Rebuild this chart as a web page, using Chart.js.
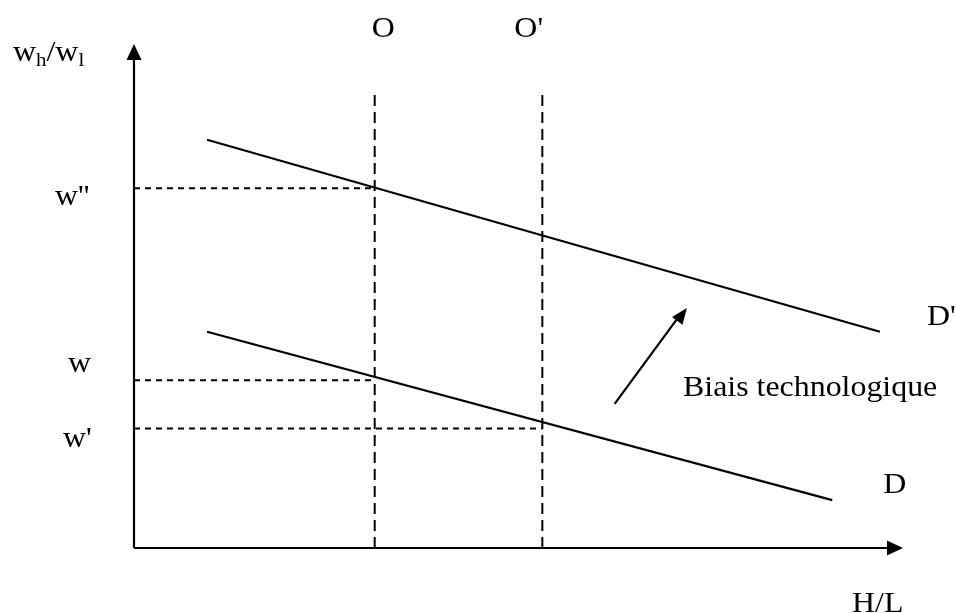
<!DOCTYPE html>
<html>
<head>
<meta charset="utf-8">
<script src="https://cdn.jsdelivr.net/npm/chart.js@4.4.1/dist/chart.umd.min.js"></script>
<style>
  body { margin: 0; background: #fff; }
  #wrap { width: 956px; height: 613px; }
</style>
</head>
<body>
<div id="wrap"><canvas id="chart" width="956" height="613"></canvas></div>
<script>
// demand curves (H/L -> wh/wl)
const demandX = [0.95, 9.08];
const demandY = [4.29, 0.95];
const shiftedX = [0.95, 9.70];
const shiftedY = [8.10, 4.29];

// relative supply O and O'
const supplyLabels = ['O', "O'"];
const supplyX = [3.13, 5.31];
const supplyTop = 9.03;

// wage levels read on the vertical axis
const wageLabels = ["w''", 'w', "w'"];
const wageY = [7.14, 3.33, 2.37];
const wageEndX = [3.13, 3.13, 5.31];

// shift arrow
const shiftX = [6.25, 7.19];
const shiftY = [2.86, 4.76];

const toPoints = (xs, ys) => xs.map((x, i) => ({ x: x, y: ys[i] }));

const datasets = [];
const solid = (pts) => ({
    data: pts, showLine: true, borderColor: '#000', borderWidth: 2.2,
    pointRadius: 0, fill: false, tension: 0, clip: false,
});

// axes
datasets.push(solid([{ x: 0, y: 0 }, { x: 0, y: 9.7 }]));
datasets.push(solid([{ x: 0, y: 0 }, { x: 9.8, y: 0 }]));

// demand D and D'
datasets.push(solid(toPoints(demandX, demandY)));
datasets.push(solid(toPoints(shiftedX, shiftedY)));

// shift arrow shaft
datasets.push(solid([{ x: shiftX[0], y: shiftY[0] }, { x: shiftX[1] - 0.12, y: shiftY[1] - 0.2 }]));

// vertical dashed O, O'
supplyX.forEach((x) => {
    datasets.push({ ...solid([{ x: x, y: 0 }, { x: x, y: supplyTop }]), borderDash: [11, 6], borderWidth: 2 });
});

// horizontal dashed wage levels
wageY.forEach((y, i) => {
    datasets.push({ ...solid([{ x: 0, y: y }, { x: wageEndX[i], y: y }]), borderDash: [6, 5], borderWidth: 2 });
});

const FONT = '29px "Liberation Serif", "Times New Roman", serif';
const SUB = '19px "Liberation Serif", "Times New Roman", serif';

function text(ctx, str, x, y, font) {
    ctx.save();
    ctx.font = font || FONT;
    ctx.fillStyle = '#000';
    ctx.textBaseline = 'alphabetic';
    ctx.translate(x, y);
    ctx.scale(1.1, 1);
    ctx.fillText(str, 0, 0);
    const w = ctx.measureText(str).width * 1.1;
    ctx.restore();
    return w;
}

function arrowHead(ctx, tx, ty, angle, len, half) {
    ctx.save();
    ctx.fillStyle = '#000';
    ctx.translate(tx, ty);
    ctx.rotate(angle);
    ctx.beginPath();
    ctx.moveTo(0, 0);
    ctx.lineTo(-len, -half);
    ctx.lineTo(-len, half);
    ctx.closePath();
    ctx.fill();
    ctx.restore();
}

const annotations = {
    id: 'annotations',
    afterDatasetsDraw(chart) {
        const ctx = chart.ctx;
        const sx = chart.scales.x;
        const sy = chart.scales.y;

        // axis arrowheads
        arrowHead(ctx, sx.getPixelForValue(0), sy.getPixelForValue(10), -Math.PI / 2, 16, 7.5);
        arrowHead(ctx, sx.getPixelForValue(10), sy.getPixelForValue(0), 0, 16, 7.5);

        // shift arrowhead
        const ax = sx.getPixelForValue(shiftX[1]);
        const ay = sy.getPixelForValue(shiftY[1]);
        const bx = sx.getPixelForValue(shiftX[0]);
        const by = sy.getPixelForValue(shiftY[0]);
        arrowHead(ctx, ax, ay, Math.atan2(ay - by, ax - bx), 16, 6.5);

        // axis titles
        let x = 13;
        x += text(ctx, 'w', x, 61);
        x += text(ctx, 'h', x, 66, SUB);
        x += text(ctx, '/w', x, 61);
        text(ctx, 'l', x, 66, SUB);
        text(ctx, 'H/L', 852, 612);

        // supply labels
        supplyLabels.forEach((s, i) => {
            const px = sx.getPixelForValue(supplyX[i]);
            text(ctx, s, i === 0 ? px - 3 : px - 28, 37);
        });

        // wage labels
        const wageOffsets = [[55, 17], [68, -8], [63, 18]];
        wageLabels.forEach((s, i) => {
            text(ctx, s, wageOffsets[i][0], sy.getPixelForValue(wageY[i]) + wageOffsets[i][1]);
        });

        // curve labels
        text(ctx, "D'", sx.getPixelForValue(shiftedX[1]) + 47, sy.getPixelForValue(shiftedY[1]) - 7);
        text(ctx, 'D', sx.getPixelForValue(demandX[1]) + 51, sy.getPixelForValue(demandY[1]) - 7);
        text(ctx, 'Biais technologique', 683, 396);
    },
};

new Chart(document.getElementById('chart'), {
    type: 'scatter',
    data: { datasets: datasets },
    options: {
        responsive: false,
        animation: false,
        layout: { padding: { left: 134, right: 53, top: 44, bottom: 65 } },
        scales: {
            x: { type: 'linear', min: 0, max: 10, display: false },
            y: { type: 'linear', min: 0, max: 10, display: false },
        },
        plugins: { legend: { display: false }, tooltip: { enabled: false } },
    },
    plugins: [annotations],
});
</script>
</body>
</html>
